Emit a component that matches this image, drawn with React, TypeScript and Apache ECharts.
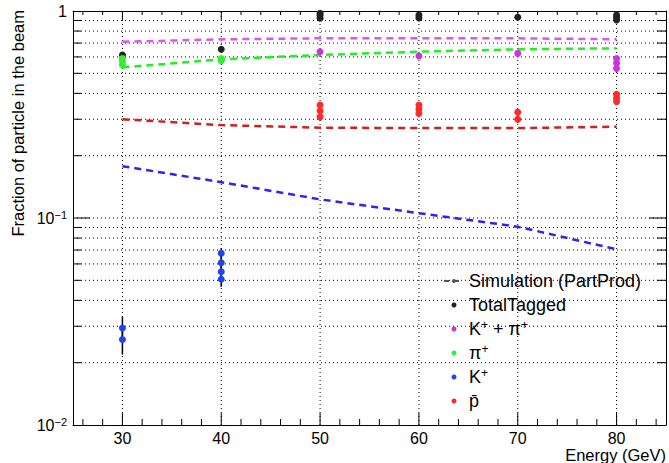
import React, { useEffect, useRef } from 'react';
import * as echarts from 'echarts';

// Simulation (PartProd) curves
const simEnergies = [30, 40, 50, 60, 70, 80];
const simKPi = [0.71, 0.73, 0.738, 0.738, 0.738, 0.73];
const simPi = [0.534, 0.584, 0.613, 0.636, 0.653, 0.66];
const simPbar = [0.3, 0.281, 0.273, 0.272, 0.272, 0.276];
const simK = [0.178, 0.149, 0.123, 0.1055, 0.0908, 0.0706];

// Measured fractions (several runs per energy)
const totalE = [30, 40, 50, 50, 50, 60, 60, 70, 80, 80, 80];
const totalV = [0.613, 0.653, 0.975, 0.95, 0.922, 0.955, 0.925, 0.932, 0.956, 0.93, 0.905];
const totalErr = 0.02;
const kpiE = [50, 60, 70, 80, 80, 80];
const kpiV = [0.636, 0.606, 0.624, 0.59, 0.56, 0.528];
const kpiErr = 0.015;
const piE = [30, 30, 30, 40, 40];
const piV = [0.59, 0.57, 0.55, 0.59, 0.575];
const piErr = 0.015;
const kE = [30, 30, 40, 40, 40, 40];
const kV = [0.0294, 0.0259, 0.0675, 0.0608, 0.055, 0.0506];
const kErr = 0.004;
const pE = [50, 50, 50, 60, 60, 60, 70, 70, 80, 80, 80];
const pV = [0.351, 0.33, 0.308, 0.351, 0.335, 0.32, 0.324, 0.3, 0.396, 0.38, 0.365];
const pErr = 0.012;

// Axis ticks
const xMajor = [30, 40, 50, 60, 70, 80];
const xMinor = [26, 28, 32, 34, 36, 38, 42, 44, 46, 48, 52, 54, 56, 58, 62, 64, 66, 68, 72, 74, 76, 78, 82, 84];
const yMajor = [0.1];
const yMinor = [0.02, 0.03, 0.04, 0.05, 0.06, 0.07, 0.08, 0.09, 0.2, 0.3, 0.4, 0.5, 0.6, 0.7, 0.8, 0.9];

const FONT = 'Liberation Sans, Arial, sans-serif';

const pairs = (xs: number[], ys: number[]) => xs.map((x, i) => [x, ys[i]]);

const legendRich: Record<string, string> = {
  'Simulation (PartProd)': '{b|Simulation (PartProd)}',
  TotalTagged: '{b|TotalTagged}',
  'K+ + π+': '{b|K}{sup|+}{b| + π}{sup|+}',
  'π+': '{b|π}{sup|+}',
  'K+': '{b|K}{sup|+}',
  'p̄': '{b|p\u0304}',
};

function errSeries(name: string, xs: number[], ys: number[], err: number) {
  return {
    name,
    type: 'custom',
    silent: true,
    z: 3,
    data: pairs(xs, ys),
    renderItem: (_p: any, api: any) => {
      const x = api.value(0);
      const y = api.value(1);
      const a = api.coord([x, y + err]);
      const b = api.coord([x, Math.max(y - err, 0.0101)]);
      return {
        type: 'line',
        shape: { x1: a[0], y1: a[1], x2: b[0], y2: b[1] },
        style: { stroke: '#000', lineWidth: 1.5 },
      };
    },
  };
}

function pointSeries(name: string, xs: number[], ys: number[], color: string) {
  return {
    name,
    type: 'scatter',
    symbol: 'circle',
    symbolSize: 7,
    z: 4,
    itemStyle: { color, opacity: 1 },
    data: pairs(xs, ys),
  };
}

function simSeries(name: string, ys: number[], color: string) {
  return {
    name,
    type: 'line',
    symbol: 'none',
    z: 2,
    lineStyle: { color, width: 2.5, type: [7, 5] },
    data: pairs(simEnergies, ys),
  };
}

export default function App() {
  const ref = useRef<HTMLDivElement>(null);
  useEffect(() => {
    if (!ref.current) return;
    const chart = echarts.init(ref.current, undefined, { renderer: 'svg' });
    const dot = { stroke: '#000', lineWidth: 1, lineDash: [1, 3] };
    const solid = { stroke: '#000', lineWidth: 1 };
    const option: any = {
      animation: false,
      backgroundColor: '#fff',
      grid: { left: 73, top: 11, width: 593, height: 414, containLabel: false },
      xAxis: [
        {
          type: 'value',
          min: 25,
          max: 85,
          position: 'bottom',
          axisLine: { show: true, lineStyle: { color: '#000', width: 1 } },
          axisTick: { show: false },
          splitLine: { show: false },
          axisLabel: {
            customValues: xMajor,
            color: '#000',
            fontSize: 16,
            fontFamily: FONT,
            margin: 5,
          },
        },
        {
          type: 'value',
          min: 25,
          max: 85,
          position: 'top',
          axisLine: { show: true, lineStyle: { color: '#000', width: 1 } },
          axisTick: { show: false },
          splitLine: { show: false },
          axisLabel: { show: false },
        },
      ],
      yAxis: [
        {
          type: 'log',
          logBase: 10,
          min: 0.01,
          max: 1,
          position: 'left',
          axisLine: { show: true, lineStyle: { color: '#000', width: 1 } },
          axisTick: { show: false },
          splitLine: { show: false },
          axisLabel: {
            color: '#000',
            fontSize: 16,
            fontFamily: FONT,
            margin: 6,
            formatter: (v: number) => {
              const e = Math.round(Math.log10(v));
              if (e === 0) return '{b|1}';
              return '{b|10}{sup|\u2212' + -e + '}';
            },
            rich: {
              b: { fontSize: 16, fontFamily: FONT, color: '#000', lineHeight: 18 },
              sup: { fontSize: 11, fontFamily: FONT, color: '#000', lineHeight: 11, verticalAlign: 'top' },
            },
          },
        },
        {
          type: 'log',
          logBase: 10,
          min: 0.01,
          max: 1,
          position: 'right',
          axisLine: { show: true, lineStyle: { color: '#000', width: 1 } },
          axisTick: { show: false },
          splitLine: { show: false },
          axisLabel: { show: false },
        },
      ],
      legend: {
        orient: 'vertical',
        left: 438,
        top: 266,
        itemWidth: 20,
        itemHeight: 5,
        itemGap: 4,
        data: ['Simulation (PartProd)', 'TotalTagged', 'K+ + π+', 'π+', 'K+', 'p̄'],
        formatter: (name: string) => legendRich[name] || name,
        textStyle: {
          fontSize: 18,
          fontFamily: FONT,
          color: '#000',
          lineHeight: 20,
          rich: {
            b: { fontSize: 18, fontFamily: FONT, color: '#000', lineHeight: 20 },
            sup: { fontSize: 12, fontFamily: FONT, color: '#000', lineHeight: 12, verticalAlign: 'top' },
          },
        },
      },
      graphic: [
        {
          type: 'text',
          x: 18,
          y: 10,
          rotation: Math.PI / 2,
          style: {
            text: 'Fraction of particle in the beam',
            fontSize: 16.5,
            fontFamily: FONT,
            fill: '#000',
            align: 'right',
            verticalAlign: 'middle',
          },
        },
        {
          type: 'text',
          x: 666,
          y: 455,
          style: {
            text: 'Energy (GeV)',
            fontSize: 16.5,
            fontFamily: FONT,
            fill: '#000',
            align: 'right',
            verticalAlign: 'middle',
          },
        },
      ],
      series: [
        {
          name: 'frameGrid',
          type: 'custom',
          silent: true,
          z: 1,
          data: [[50, 0.1]],
          renderItem: (_p: any, api: any) => {
            const children: any[] = [];
            const bl = api.coord([25, 0.01]);
            const tr = api.coord([85, 1]);
            const xL = bl[0];
            const xR = tr[0];
            const yB = bl[1];
            const yT = tr[1];
            xMajor.forEach((v) => {
              const x = api.coord([v, 0.1])[0];
              children.push({ type: 'line', shape: { x1: x, y1: yB, x2: x, y2: yT }, style: dot });
              children.push({ type: 'line', shape: { x1: x, y1: yB, x2: x, y2: yB - 12 }, style: solid });
              children.push({ type: 'line', shape: { x1: x, y1: yT, x2: x, y2: yT + 9 }, style: solid });
            });
            xMinor.forEach((v) => {
              const x = api.coord([v, 0.1])[0];
              children.push({ type: 'line', shape: { x1: x, y1: yB, x2: x, y2: yB - 6 }, style: solid });
              children.push({ type: 'line', shape: { x1: x, y1: yT, x2: x, y2: yT + 4 }, style: solid });
            });
            yMajor.forEach((v) => {
              const y = api.coord([50, v])[1];
              children.push({ type: 'line', shape: { x1: xL, y1: y, x2: xR, y2: y }, style: dot });
              children.push({ type: 'line', shape: { x1: xL, y1: y, x2: xL + 17, y2: y }, style: solid });
              children.push({ type: 'line', shape: { x1: xR, y1: y, x2: xR - 17, y2: y }, style: solid });
            });
            yMinor.forEach((v) => {
              const y = api.coord([50, v])[1];
              children.push({ type: 'line', shape: { x1: xL, y1: y, x2: xR, y2: y }, style: dot });
              children.push({ type: 'line', shape: { x1: xL, y1: y, x2: xL + 8, y2: y }, style: solid });
              children.push({ type: 'line', shape: { x1: xR, y1: y, x2: xR - 9, y2: y }, style: solid });
            });
            return { type: 'group', children };
          },
        },
        {
          name: 'Simulation (PartProd)',
          type: 'line',
          symbol: 'none',
          data: [],
          itemStyle: { color: '#555' },
          lineStyle: { color: '#555', width: 1.5, type: [5, 5] },
        },
        simSeries('sim K+ + π+', simKPi, '#dd55ee'),
        simSeries('sim π+', simPi, '#22ee22'),
        simSeries('sim p̄', simPbar, '#cc2222'),
        simSeries('sim K+', simK, '#3322ee'),
        errSeries('err total', totalE, totalV, totalErr),
        errSeries('err kpi', kpiE, kpiV, kpiErr),
        errSeries('err pi', piE, piV, piErr),
        errSeries('err k', kE, kV, kErr),
        errSeries('err p', pE, pV, pErr),
        pointSeries('TotalTagged', totalE, totalV, '#222222'),
        pointSeries('K+ + π+', kpiE, kpiV, '#cc33dd'),
        pointSeries('π+', piE, piV, '#33ee33'),
        pointSeries('K+', kE, kV, '#2244ee'),
        pointSeries('p̄', pE, pV, '#ff2a2a'),
      ],
    };
    chart.setOption(option);
    return () => chart.dispose();
  }, []);
  return (
    <div
      ref={ref}
      style={{ position: 'fixed', left: 0, top: 0, width: 669, height: 463, background: '#fff' }}
    />
  );
}
